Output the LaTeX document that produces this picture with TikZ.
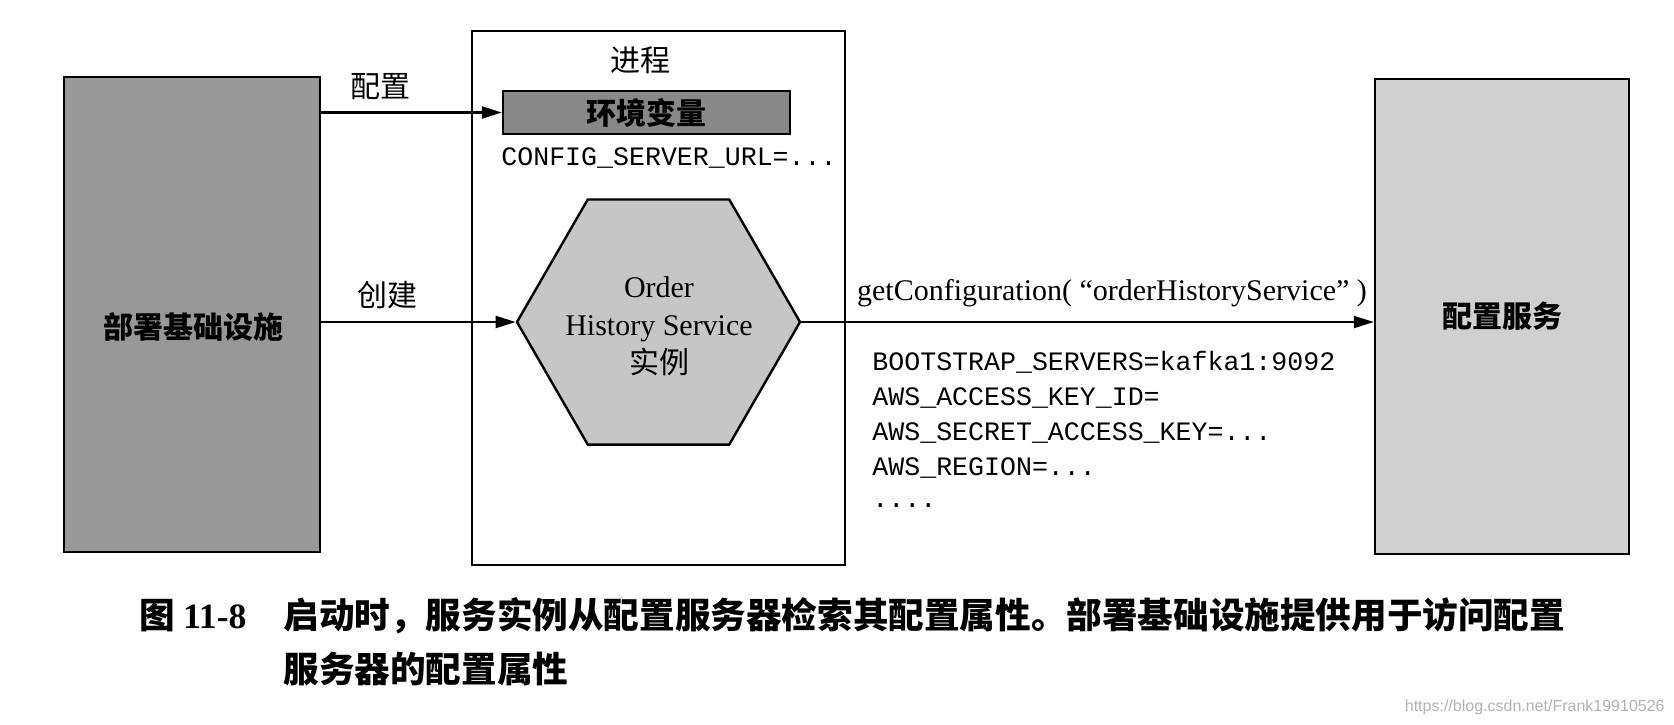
\documentclass[tikz,border=0pt]{standalone}
\usepackage{fontspec}
\setmainfont{Liberation Serif}
\setmonofont{Liberation Mono}
\newfontfamily\cjk{Noto Sans CJK SC}
\newfontfamily\wmfont{Liberation Sans}
\usetikzlibrary{shapes.geometric,arrows.meta}
\definecolor{infragray}{RGB}{152,152,152}
\definecolor{envgray}{RGB}{136,136,136}
\definecolor{hexgray}{RGB}{198,198,198}
\definecolor{cfggray}{RGB}{208,208,208}
\tikzset{
  box/.style={draw, line width=1.2pt, inner sep=0pt},
  arr/.style={line width=1.1pt, -{Triangle[length=10pt,width=6pt]}},
  cjklabel/.style={font=\cjk\fontsize{15}{18}\selectfont, inner sep=0pt},
  cjkbold/.style={font=\cjk\bfseries\fontsize{15}{18}\selectfont, inner sep=0pt},
  mono/.style={font=\ttfamily\fontsize{13.3}{17}\selectfont, inner sep=0pt, anchor=base west},
  captext/.style={font=\cjk\bfseries\fontsize{17.8}{22}\selectfont, inner sep=0pt, anchor=west}
}
\begin{document}
\begin{tikzpicture}[x=0.5pt,y=-0.5pt]
\useasboundingbox (0,0) rectangle (1674,724);
% left infrastructure box
\node[box, fill=infragray, minimum width=128pt, minimum height=237.5pt] (infra) at (192,314.5) {};
\node[cjkbold] (infratext) at (193,327) {部署基础设施};
% process box
\node[box, fill=white, minimum width=186.5pt, minimum height=267pt] (proc) at (658.5,298) {};
\node[cjklabel] (proctext) at (640,60) {进程};
% env var bar
\node[box, fill=envgray, minimum width=143.5pt, minimum height=21.5pt, cjkbold] (env) at (646.5,112.5) {环境变量};
\node[mono, anchor=west] (cfgurl) at (501,158) {CONFIG\_SERVER\_URL=...};
% hexagon
\node[regular polygon, regular polygon sides=6, minimum size=141.5pt, draw, line width=1.2pt, fill=hexgray, inner sep=0pt] (hex) at (658.5,322) {};
\node[align=center, inner sep=0pt, font=\fontsize{15}{19}\selectfont] (hextext) at (659,326) {Order\\History Service\\{\cjk 实例}};
% config service box
\node[box, fill=cfggray, minimum width=127pt, minimum height=237.5pt, cjkbold] (cfg) at (1502,316.5) {配置服务};
% arrows
\draw[arr] (infra.east |- env.west) -- (env.west);
\draw[arr] (infra.east |- hex.west) -- (hex.west);
\draw[arr] (hex.east) -- (cfg.west |- hex.east);
% arrow labels
\node[cjklabel] (lconf) at (380,87) {配置};
\node[cjklabel] (lcreate) at (387,295) {创建};
\node[inner sep=0pt, anchor=base, font=\fontsize{15}{18}\selectfont] (lget) at (1112,300) {getConfiguration( “orderHistoryService” )};
% monospace properties
\node[mono] (m1) at (872,370.5) {BOOTSTRAP\_SERVERS=kafka1:9092};
\node[mono] (m2) at (872,405.5) {AWS\_ACCESS\_KEY\_ID=};
\node[mono] (m3) at (872,440.5) {AWS\_SECRET\_ACCESS\_KEY=...};
\node[mono] (m4) at (872,475.5) {AWS\_REGION=...};
\node[mono] (m5) at (872,507) {....};
% caption
\node[captext] (fignum) at (139,616) {图 {\rmfamily 11-8}};
\node[captext] (cap1) at (283,616) {启动时，服务实例从配置服务器检索其配置属性。部署基础设施提供用于访问配置};
\node[captext] (cap2) at (283,669) {服务器的配置属性};
% watermark
\node[inner sep=0pt, font=\wmfont\fontsize{8}{9}\selectfont, text=black!30, anchor=east] (wm) at (1665,707) {https://blog.csdn.net/Frank19910526};
\end{tikzpicture}
\end{document}
